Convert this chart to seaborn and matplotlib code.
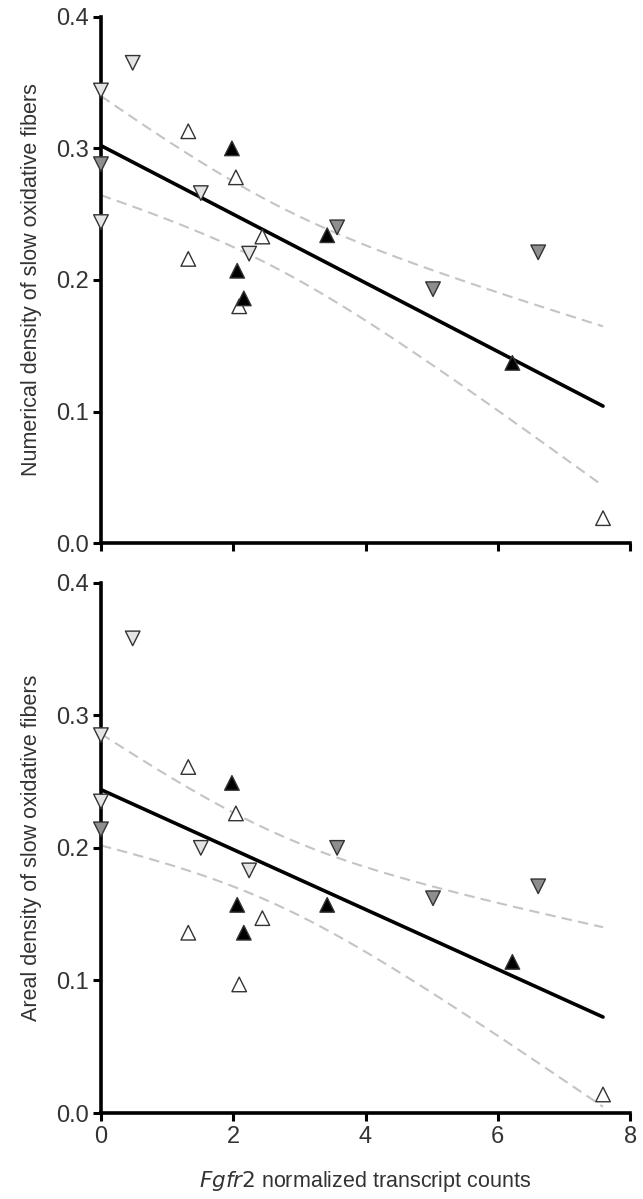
import numpy as np
import pandas as pd
import seaborn as sns
import matplotlib.pyplot as plt

# transcript counts (same for both panels)
fgfr2 = [0.48, 0.0, 0.0, 1.51, 2.24,          # down, white
         0.0, 3.57, 5.02, 6.61,               # down, gray
         1.32, 2.04, 2.44, 1.32, 2.09, 7.59,  # up, white
         1.98, 2.06, 2.16, 3.42, 6.22]        # up, black
group = (["down_white"] * 5 + ["down_gray"] * 4 +
         ["up_white"] * 6 + ["up_black"] * 5)

numerical_density = [0.365, 0.344, 0.244, 0.266, 0.220,
                     0.288, 0.240, 0.193, 0.221,
                     0.313, 0.278, 0.233, 0.216, 0.180, 0.019,
                     0.300, 0.207, 0.186, 0.234, 0.137]
areal_density = [0.358, 0.285, 0.235, 0.200, 0.183,
                 0.214, 0.200, 0.162, 0.171,
                 0.261, 0.226, 0.147, 0.136, 0.097, 0.014,
                 0.249, 0.157, 0.136, 0.157, 0.114]

ylabels = ["Numerical density of slow oxidative fibers",
           "Areal density of slow oxidative fibers"]
xticks = [0, 2, 4, 6, 8]
yticks = [0.0, 0.1, 0.2, 0.3, 0.4]

palette = {"down_white": "#e4e4e4", "down_gray": "#8e8e8e",
           "up_white": "#ffffff", "up_black": "#000000"}
markers = {"down_white": "v", "down_gray": "v",
           "up_white": "^", "up_black": "^"}

sns.set_style("white")
plt.rcParams["font.family"] = ["Liberation Sans", "DejaVu Sans"]

fig = plt.figure(figsize=(6.43, 11.99), dpi=100)
ax_top = fig.add_axes([0.157, 0.547, 0.823, 0.439])
ax_bot = fig.add_axes([0.157, 0.0717, 0.823, 0.4423])


def draw_panel(ax, yvals, ylabel, show_xlabels):
    df = pd.DataFrame({"x": fgfr2, "y": yvals, "g": group})
    # 95% confidence band of the fitted mean
    x = np.array(fgfr2)
    y = np.array(yvals)
    n = len(x)
    b, a = np.polyfit(x, y, 1)
    resid = y - (a + b * x)
    s = np.sqrt(np.sum(resid ** 2) / (n - 2))
    sxx = np.sum((x - x.mean()) ** 2)
    xs = np.linspace(x.min(), x.max(), 100)
    se = s * np.sqrt(1 / n + (xs - x.mean()) ** 2 / sxx)
    t = 2.101
    ax.plot(xs, a + b * xs + t * se, color="#c4c4c4", lw=1.5, dashes=(5, 3), zorder=1)
    ax.plot(xs, a + b * xs - t * se, color="#c4c4c4", lw=1.5, dashes=(5, 3), zorder=1)

    sns.regplot(data=df, x="x", y="y", ax=ax, scatter=False, ci=None,
                line_kws={"color": "black", "lw": 2.6, "zorder": 2})
    sns.scatterplot(data=df, x="x", y="y", hue="g", style="g", ax=ax,
                    palette=palette, markers=markers, s=110,
                    edgecolor="#333333", linewidth=1.0, legend=False, zorder=3,
                    clip_on=False)

    ax.set_xlim(0, 8)
    ax.set_ylim(0, 0.4)
    ax.set_xticks(xticks)
    ax.set_yticks(yticks)
    ax.set_yticklabels([f"{v:.1f}" for v in yticks])
    if show_xlabels:
        ax.set_xticklabels([str(v) for v in xticks])
        ax.set_xlabel("")
        ax.text(0.5, -0.105, r"$\it{Fgfr2}$" + " normalized transcript counts",
                transform=ax.transAxes, ha="center", va="top",
                fontsize=15.5, color="#333333")
    else:
        ax.set_xticklabels([])
        ax.set_xlabel("")
    ax.set_ylabel(ylabel, fontsize=15.5, color="#333333", labelpad=10)
    for side in ["top", "right"]:
        ax.spines[side].set_visible(False)
    for side in ["left", "bottom"]:
        ax.spines[side].set_linewidth(2.6)
        ax.spines[side].set_color("black")
    ax.tick_params(axis="both", direction="out", length=6, width=2.2,
                   colors="black", labelcolor="#333333", labelsize=17, pad=3,
                   left=True, bottom=True)


draw_panel(ax_top, numerical_density, ylabels[0], False)
draw_panel(ax_bot, areal_density, ylabels[1], True)

fig.savefig("out.png", dpi=100)
